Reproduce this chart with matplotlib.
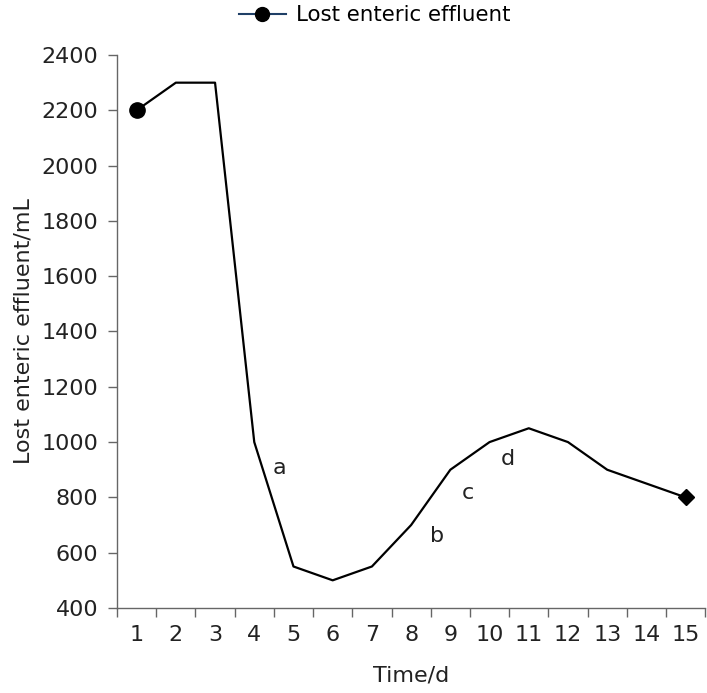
import matplotlib
matplotlib.use("Agg")
import matplotlib.pyplot as plt
from matplotlib.lines import Line2D
import numpy as np

days = list(range(1, 16))
effluent = [2200, 2300, 2300, 1000, 550, 500, 550, 700, 900, 1000, 1050, 1000, 900, 850, 800]
yticks = [400, 600, 800, 1000, 1200, 1400, 1600, 1800, 2000, 2200, 2400]
notes = ["a", "b", "c", "d"]
note_x = [4.65, 8.67, 9.44, 10.46]
note_y = [906, 660, 816, 939]

plt.rcParams['font.family'] = ['DejaVu Sans']
fig = plt.figure(figsize=(7.07, 6.93), dpi=100)
ax = fig.add_axes([0.1655, 0.1227, 0.832, 0.7979])

ax.plot(days, effluent, color='black', lw=1.6)
ax.plot(days[0], effluent[0], 'o', color='black', ms=11)
ax.plot(days[-1], effluent[-1], 'D', color='black', ms=8)

for t, x, y in zip(notes, note_x, note_y):
    ax.text(x, y, t, fontsize=16, ha='center', va='center', color='#222222')

ax.set_xlim(0.5, 15.5)
ax.set_ylim(400, 2400)
ax.set_yticks(yticks)
ax.set_xticks(days)
ax.set_xticks(np.arange(0.5, 15.6, 1), minor=True)
ax.tick_params(axis='x', which='major', length=0, pad=12, labelsize=16, colors='#222222')
ax.tick_params(axis='x', which='minor', length=6.5, width=1, color='#666666', direction='out')
ax.tick_params(axis='y', length=6.5, width=1, pad=7, color='#666666', labelsize=16, labelcolor='#222222')
for s in ['top', 'right']:
    ax.spines[s].set_visible(False)
for s in ['left', 'bottom']:
    ax.spines[s].set_color('#666666')
    ax.spines[s].set_linewidth(1)

ax.set_xlabel('Time/d', fontsize=16, color='#222222', labelpad=15)
ax.set_ylabel('Lost enteric effluent/mL', fontsize=16, color='#222222', labelpad=6)

handle = Line2D([], [], color='#1f3f66', lw=1.5, marker='o', markerfacecolor='black',
                markeredgecolor='black', ms=10)
fig.legend([handle], ['Lost enteric effluent'], loc='center', bbox_to_anchor=(0.53, 0.978),
           frameon=False, fontsize=15.4, handlelength=2.2, handletextpad=0.5)

fig.savefig('out.png', dpi=100)
